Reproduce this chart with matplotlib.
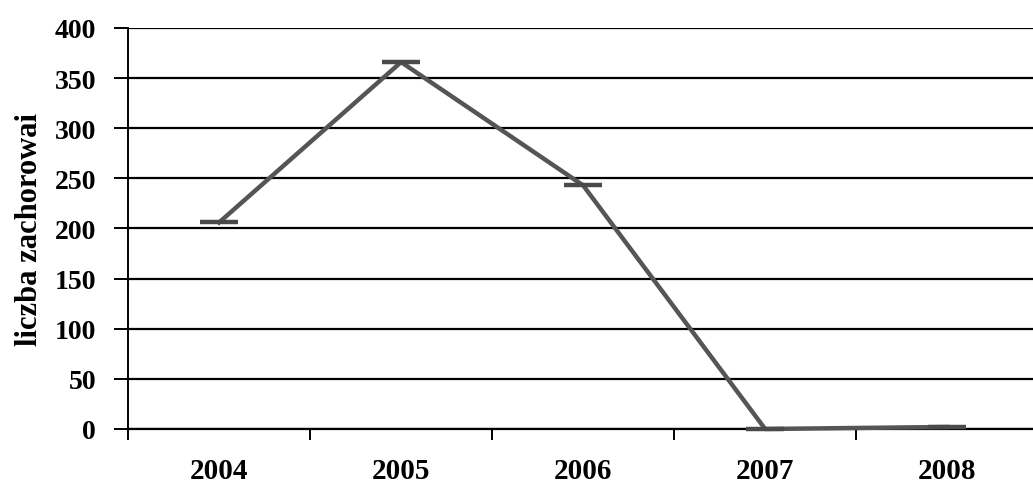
from matplotlib import pyplot as plt
import numpy as np

years = ['2004', '2005', '2006', '2007', '2008']
cases = [206, 366, 243, 0, 2]
yticks = [0, 50, 100, 150, 200, 250, 300, 350, 400]

plt.rcParams['font.family'] = ['Liberation Serif', 'DejaVu Serif']

fig = plt.figure(figsize=(10.33, 4.89), dpi=100)
ax = fig.add_axes([0.124, 0.1207, 0.881, 0.82])

x = np.arange(len(years))
ax.plot(x, cases, color='#555555', linewidth=3.2, marker='_', markersize=27,
	markeredgewidth=3.2, markeredgecolor='#4a4a4a', clip_on=False, zorder=3)

ax.set_xlim(-0.5, 4.5)
ax.set_ylim(0, 400)
ax.set_yticks(yticks)
ax.set_yticklabels([str(v) for v in yticks], fontsize=20, fontweight='bold')
ax.yaxis.grid(True, color='black', linewidth=1.6)
ax.set_axisbelow(True)

ax.set_xticks(x)
ax.set_xticklabels(years, fontsize=21, fontweight='bold')
ax.set_xticks(np.arange(-0.5, 4.5, 1.0), minor=True)
ax.tick_params(axis='x', which='major', length=0, pad=20)
ax.tick_params(axis='x', which='minor', length=8, width=1.4, direction='out')
ax.tick_params(axis='y', length=10, width=1.4, direction='out', pad=13)

for side in ['top', 'right']:
	ax.spines[side].set_visible(False)
ax.spines['left'].set_linewidth(1.4)
ax.spines['bottom'].set_linewidth(1.6)

ax.set_ylabel('liczba zachorowai', fontsize=22, fontweight='bold', labelpad=8)

plt.savefig('out.png', dpi=100)
